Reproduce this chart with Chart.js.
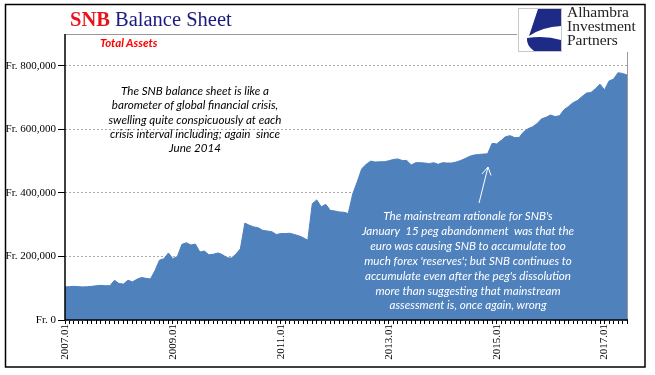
<!DOCTYPE html>
<html>
<head>
<meta charset="utf-8">
<script src="https://cdn.jsdelivr.net/npm/chart.js@4.4.1/dist/chart.umd.min.js"></script>
<style>
    body { margin: 0; background: #fff; }
    #wrap { position: relative; width: 655px; height: 375px; overflow: hidden; }
    #chart { position: absolute; left: 0; top: 0; }
    .txt { position: absolute; white-space: nowrap; }
    #title { left: 70px; top: 8px; font: 20.5px "Liberation Serif", serif; line-height: 22px; color: #1a1a80; }
    #title b { color: #e8141b; }
    #subtitle { left: 100px; top: 36px; font: italic bold 11.5px Lato, sans-serif; line-height: 14px; color: #ff0000; }
    #note1 { left: 85px; width: 220px; top: 84px; text-align: center; font: italic 11.6px Lato, sans-serif; line-height: 14.3px; color: #000; }
    #note2 { left: 338px; width: 260px; top: 209px; text-align: center; font: italic 11.6px Lato, sans-serif; line-height: 14.9px; color: #fff; }
    #logo { left: 567px; top: 5px; font: 15.5px "Liberation Serif", serif; line-height: 14px; color: #222; }
</style>
</head>
<body>
<div id="wrap">
    <canvas id="chart" width="655" height="375"></canvas>
    <div class="txt" id="title"><b>SNB</b> Balance Sheet</div>
    <div class="txt" id="subtitle">Total Assets</div>
    <div class="txt" id="note1">The SNB balance sheet is like a<br>barometer of global financial crisis,<br>swelling quite conspicuously at each<br>crisis interval including; again&nbsp; since<br>June 2014</div>
    <div class="txt" id="note2">The mainstream rationale for SNB's<br>January&nbsp; 15 peg abandonment&nbsp; was that the<br>euro was causing SNB to accumulate too<br>much forex 'reserves'; but SNB continues to<br>accumulate even after the peg's dissolution<br>more than suggesting that mainstream<br>assessment is, once again, wrong</div>
    <div class="txt" id="logo">Alhambra<br>Investment<br>Partners</div>
</div>
<script>
// months shown on the category axis, 2007.01 .. 2017.06
const years = [2007, 2008, 2009, 2010, 2011, 2012, 2013, 2014, 2015, 2016, 2017];
const monthCodes = ['01', '02', '03', '04', '05', '06', '07', '08', '09', '10', '11', '12'];
const lastMonth = '2017.06';

// SNB total assets, CHF millions
const totalAssets = [
    104000, 105000, 106000, 105000, 104000, 105000, 106000, 108000, 109000, 108000, 108000, 125000,
    115000, 113000, 125000, 120000, 128000, 134000, 131000, 129000, 155000, 188000, 193000, 211000,
    193000, 200000, 238000, 243000, 236000, 239000, 214000, 217000, 205000, 207000, 211000, 206000,
    196000, 195000, 207000, 224000, 305000, 298000, 293000, 290000, 282000, 280000, 278000, 269000,
    272000, 272000, 273000, 269000, 265000, 259000, 251000, 366000, 378000, 356000, 364000, 345000,
    343000, 340000, 339000, 335000, 397000, 435000, 476000, 490000, 500000, 497000, 498000, 498000,
    501000, 505000, 507000, 502000, 502000, 488000, 495000, 495000, 494000, 492000, 495000, 490000,
    495000, 494000, 494000, 497000, 502000, 508000, 515000, 519000, 521000, 522000, 523000, 556000,
    554000, 565000, 577000, 580000, 574000, 574000, 592000, 602000, 608000, 618000, 633000, 638000,
    645000, 640000, 643000, 662000, 672000, 684000, 691000, 703000, 714000, 716000, 728000, 742000,
    724000, 752000, 758000, 778000, 776000, 771000
];

const xTickLabels = ['2007.01', '2009.01', '2011.01', '2013.01', '2015.01', '2017.01'];
const yTicks = [0, 200000, 400000, 600000, 800000];
const yMax = 900000;

const labels = [];
for (const y of years) {
    for (const m of monthCodes) {
        const l = y + '.' + m;
        labels.push(l);
        if (l === lastMonth) break;
    }
}

// axis lines, frame, logo, arrow, rotated year labels
const extras = {
    id: 'extras',
    afterDraw(chart) {
        const ctx = chart.ctx;
        const a = chart.chartArea;
        const xs = chart.scales.x;
        ctx.save();

        // plot area border (grey), then axes (black)
        ctx.strokeStyle = '#9a9a9a';
        ctx.lineWidth = 1;
        ctx.beginPath();
        ctx.moveTo(a.left, a.top + 0.5);
        ctx.lineTo(a.right, a.top + 0.5);
        ctx.moveTo(a.right + 0.5, a.top);
        ctx.lineTo(a.right + 0.5, a.bottom);
        ctx.stroke();

        ctx.strokeStyle = '#000';
        ctx.lineWidth = 1.5;
        ctx.beginPath();
        ctx.moveTo(a.left, a.top);
        ctx.lineTo(a.left, a.bottom);
        ctx.moveTo(a.left, a.bottom);
        ctx.lineTo(a.right + 1, a.bottom);
        ctx.stroke();

        // year labels, read bottom to top
        ctx.fillStyle = '#000';
        ctx.font = '11px "Liberation Serif", serif';
        ctx.textAlign = 'right';
        ctx.textBaseline = 'middle';
        labels.forEach((l, i) => {
            if (!xTickLabels.includes(l)) return;
            const x = xs.getPixelForValue(i);
            ctx.save();
            ctx.translate(x, a.bottom + 4);
            ctx.rotate(-Math.PI / 2);
            ctx.fillText(l, 0, 0);
            ctx.restore();
        });

        // arrow in the area
        ctx.strokeStyle = '#fff';
        ctx.lineWidth = 1;
        ctx.beginPath();
        ctx.moveTo(479, 203);
        ctx.lineTo(488, 167);
        ctx.moveTo(482, 174);
        ctx.lineTo(488, 167);
        ctx.lineTo(491, 175.5);
        ctx.stroke();

        // logo corner
        ctx.fillStyle = '#fff';
        ctx.fillRect(517, 5, 127, 47);
        ctx.strokeStyle = '#c8c8c8';
        ctx.strokeRect(518.5, 8.5, 43, 43);
        ctx.fillStyle = '#1d2b86';
        // upper wedge
        ctx.beginPath();
        ctx.moveTo(538, 9);
        ctx.lineTo(561, 9);
        ctx.lineTo(561, 26);
        ctx.quadraticCurveTo(542, 27, 529, 36);
        ctx.closePath();
        ctx.fill();
        // lower swoosh
        ctx.beginPath();
        ctx.moveTo(527, 38);
        ctx.quadraticCurveTo(545, 35, 561, 40);
        ctx.lineTo(561, 51);
        ctx.lineTo(534, 51);
        ctx.quadraticCurveTo(526, 45, 527, 38);
        ctx.closePath();
        ctx.fill();

        // outer frame
        ctx.strokeStyle = '#000';
        ctx.lineWidth = 1.5;
        ctx.strokeRect(5.5, 4.5, 639.5, 362.5);
        ctx.restore();
    }
};

new Chart(document.getElementById('chart'), {
    type: 'line',
    data: {
        labels: labels,
        datasets: [{
            label: 'Total Assets',
            data: totalAssets,
            fill: 'origin',
            backgroundColor: 'rgb(79, 129, 189)',
            borderColor: 'rgb(79, 129, 189)',
            borderWidth: 1,
            pointRadius: 0,
            tension: 0
        }]
    },
    options: {
        responsive: false,
        devicePixelRatio: 1,
        animation: false,
        layout: { padding: { top: 34, right: 28, left: 0, bottom: 0 } },
        plugins: {
            legend: { display: false },
            tooltip: { enabled: false }
        },
        scales: {
            x: {
                offset: false,
                grid: {
                    drawOnChartArea: false,
                    drawTicks: true,
                    tickLength: 4,
                    tickColor: '#000',
                    offset: false
                },
                border: { display: false },
                ticks: { display: false },
                afterFit: (scale) => { scale.height = 55; }
            },
            y: {
                min: 0,
                max: yMax,
                grid: {
                    color: '#a8a8a8',
                    tickColor: '#000',
                    tickLength: 7,
                    tickBorderDash: []
                },
                border: { display: false, dash: [2, 2] },
                ticks: {
                    stepSize: 200000,
                    padding: 2,
                    color: '#000',
                    font: { family: '"Liberation Serif", serif', size: 11 },
                    callback: (v) => 'Fr. ' + v.toLocaleString('en-US')
                },
                afterBuildTicks: (scale) => {
                    scale.ticks = yTicks.map((v) => ({ value: v }));
                },
                afterFit: (scale) => { scale.width = 65; }
            }
        }
    },
    plugins: [extras]
});
</script>
</body>
</html>
